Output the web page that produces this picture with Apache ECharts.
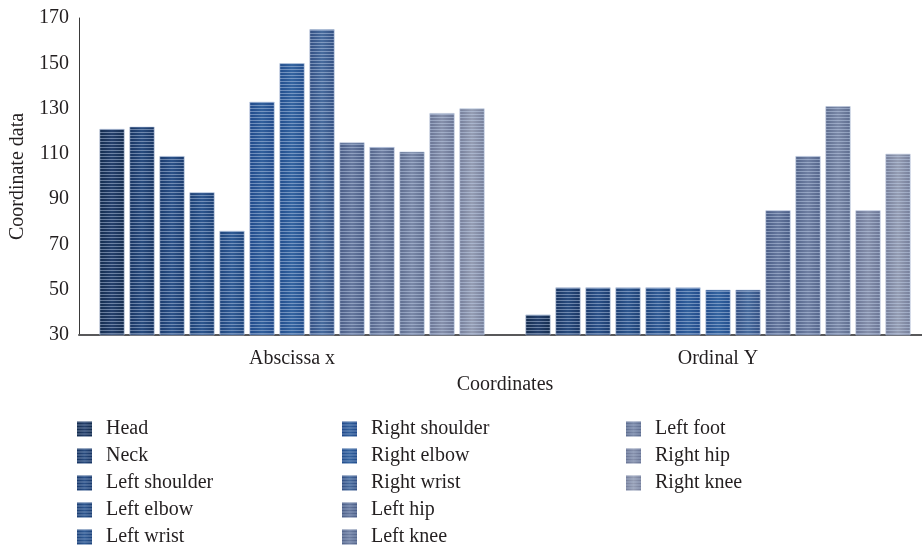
<!DOCTYPE html>
<html>
<head>
<meta charset="utf-8">
<style>
  html, body { margin: 0; padding: 0; background: #ffffff; }
  #chart { width: 922px; height: 553px; }
</style>
<script src="https://cdn.jsdelivr.net/npm/echarts@6/dist/echarts.min.js"></script>
</head>
<body>
<div id="chart"></div>
<script>
// Coordinate groups on the category axis
const categories = ['Abscissa x', 'Ordinal Y'];

// Body keypoints, one bar series each
const keypoints = [
  'Head', 'Neck', 'Left shoulder', 'Left elbow', 'Left wrist',
  'Right shoulder', 'Right elbow', 'Right wrist', 'Left hip',
  'Left knee', 'Left foot', 'Right hip', 'Right knee'
];

// Abscissa x value of each keypoint
const abscissaX = [121, 122, 109, 93, 76, 133, 150, 165, 115, 113, 111, 128, 130];
// Ordinal Y value of each keypoint
const ordinalY = [39, 51, 51, 51, 51, 51, 50, 50, 85, 109, 131, 85, 110];

// Value axis ticks
const yTicks = { min: 30, max: 170, step: 20 };

// Edge / centre shades for each keypoint, navy through steel blue to grey
const shades = [
  ['#142c4e', '#243f6b'],
  ['#183461', '#284b7e'],
  ['#1a3a6c', '#2b5188'],
  ['#1c3f73', '#2d568e'],
  ['#1e447b', '#305b95'],
  ['#20498a', '#32609c'],
  ['#224d8c', '#3464a0'],
  ['#334f82', '#476b9d'],
  ['#4a5d86', '#65779d'],
  ['#54658b', '#6f7fa2'],
  ['#5e6d8f', '#7a88a7'],
  ['#6a7595', '#8690ab'],
  ['#767f9b', '#959db3']
];

const serif = '"Liberation Serif", "Times New Roman", serif';
const textColor = '#231f20';

function barFill(i) {
  const [edge, mid] = shades[i];
  return {
    type: 'linear', x: 0, y: 0, x2: 1, y2: 0,
    colorStops: [
      { offset: 0, color: edge },
      { offset: 0.5, color: mid },
      { offset: 1, color: edge }
    ]
  };
}

const stripes = {
  symbol: 'rect',
  symbolSize: 1,
  color: 'rgba(200, 215, 240, 0.45)',
  dashArrayX: [8, 0],
  dashArrayY: [1, 2],
  rotation: 0
};

const series = keypoints.map((name, i) => ({
  name: name,
  type: 'bar',
  barWidth: 25,
  barGap: '20%',
  data: [abscissaX[i], ordinalY[i]],
  itemStyle: {
    color: barFill(i),
    borderColor: 'rgba(190, 205, 228, 0.5)',
    borderWidth: 0.6,
    decal: stripes
  },
  emphasis: { disabled: true }
}));

function legendColumn(names, left) {
  return {
    orient: 'vertical',
    left: left,
    top: 419,
    padding: 0,
    itemWidth: 15,
    itemHeight: 15,
    itemGap: 7,
    icon: 'rect',
    selectedMode: false,
    data: names,
    itemStyle: { borderWidth: 0 },
    textStyle: {
      fontFamily: serif,
      fontSize: 20,
      color: textColor,
      lineHeight: 20,
      padding: [0, 0, 0, 9]
    }
  };
}

const chart = echarts.init(document.getElementById('chart'), null, { renderer: 'canvas' });

chart.setOption({
  backgroundColor: '#ffffff',
  animation: false,
  aria: { enabled: true, decal: { show: true } },
  grid: {
    left: 79, top: 18, width: 852, height: 317,
    containLabel: false, outerBoundsMode: 'none'
  },
  legend: [
    legendColumn(keypoints.slice(0, 5), 77),
    legendColumn(keypoints.slice(5, 10), 342),
    legendColumn(keypoints.slice(10), 626)
  ],
  xAxis: {
    type: 'category',
    data: categories,
    name: 'Coordinates',
    nameLocation: 'middle',
    nameGap: 40,
    nameTextStyle: { fontFamily: serif, fontSize: 20, color: textColor },
    axisLine: { lineStyle: { color: '#58585a', width: 2 } },
    axisTick: { show: false },
    axisLabel: { fontFamily: serif, fontSize: 20, color: textColor, margin: 14 }
  },
  yAxis: {
    type: 'value',
    min: yTicks.min,
    max: yTicks.max,
    interval: yTicks.step,
    name: 'Coordinate data',
    nameLocation: 'middle',
    nameGap: 50,
    nameRotate: 90,
    nameTextStyle: { fontFamily: serif, fontSize: 20, color: textColor },
    axisLine: { show: true, lineStyle: { color: '#3a3a3a', width: 1 } },
    axisTick: { show: false },
    splitLine: { show: false },
    axisLabel: { fontFamily: serif, fontSize: 20, color: textColor, margin: 10 }
  },
  series: series
});
</script>
</body>
</html>
